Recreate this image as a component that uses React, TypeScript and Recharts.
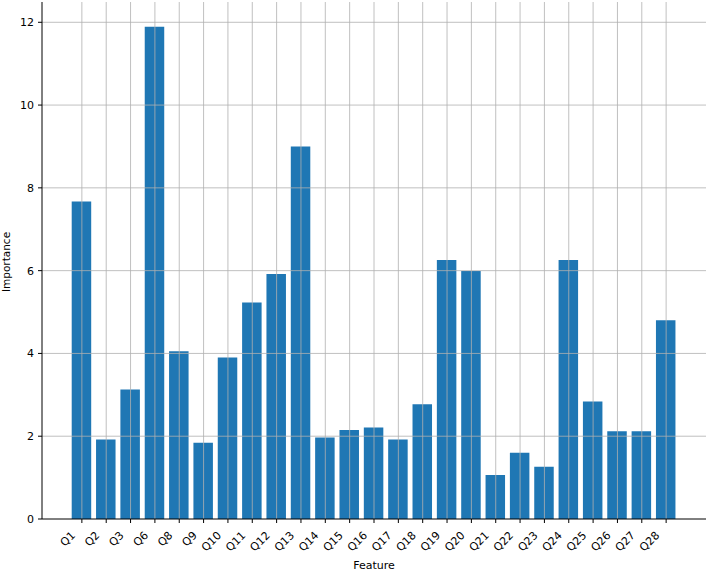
import { BarChart, Bar, XAxis, YAxis, ReferenceLine } from 'recharts';

const features = [
  'Q1', 'Q2', 'Q3', 'Q6', 'Q8', 'Q9', 'Q10', 'Q11', 'Q12', 'Q13', 'Q14', 'Q15', 'Q16',
  'Q17', 'Q18', 'Q19', 'Q20', 'Q21', 'Q22', 'Q23', 'Q24', 'Q25', 'Q26', 'Q27', 'Q28',
];
const importance = [
  7.67, 1.92, 3.13, 11.89, 4.05, 1.84, 3.9, 5.23, 5.92, 9.0, 1.97, 2.15, 2.21,
  1.92, 2.77, 6.26, 5.99, 1.06, 1.6, 1.26, 6.26, 2.84, 2.12, 2.12, 4.8,
];
const yTicks = [0, 2, 4, 6, 8, 10, 12];

const data = features.map((f, i) => ({ feature: f, value: importance[i] }));

const FONT = '"DejaVu Sans", sans-serif';
const GRID = '#b0b0b0';

function RotatedTick({ x, y, payload }: any) {
  return (
    <g transform={`translate(${x - 6},${y + 13}) rotate(-45)`}>
      <text textAnchor="end" fontSize={11} fontFamily={FONT} fill="#000">
        {payload.value}
      </text>
    </g>
  );
}

export default function App() {
  return (
    <div style={{ position: 'absolute', left: 0, top: 0 }}>
      <BarChart width={708} height={571} data={data} margin={{ top: 2, right: 2, bottom: 0, left: 0 }}>
        <Bar dataKey="value" fill="#1f77b4" barSize={19.5} isAnimationActive={false} />
        {/* matplotlib draws the grid over the bars */}
        {features.map(f => (
          <ReferenceLine key={f} x={f} stroke={GRID} strokeWidth={0.8} />
        ))}
        {yTicks.filter(t => t > 0).map(t => (
          <ReferenceLine key={t} y={t} stroke={GRID} strokeWidth={0.8} />
        ))}
        <XAxis
          dataKey="feature"
          height={52}
          padding={{ left: 27.7, right: 27.7 }}
          tick={<RotatedTick />}
          tickSize={4}
          tickMargin={0}
          tickLine={{ stroke: '#000' }}
          axisLine={{ stroke: '#000' }}
          interval={0}
          label={{ value: 'Feature', position: 'insideBottom', offset: 2, fontSize: 11, fontFamily: FONT, fill: '#000' }}
        />
        <XAxis xAxisId="top" dataKey="feature" orientation="top" height={0} tick={false} tickLine={false} axisLine={{ stroke: '#000' }} />
        <YAxis
          width={42}
          domain={[0, 12.49]}
          ticks={yTicks}
          tickSize={4}
          tickMargin={4}
          tickLine={{ stroke: '#000' }}
          axisLine={{ stroke: '#000' }}
          tick={{ fontSize: 11, fontFamily: FONT, fill: '#000' }}
          label={{
            content: () => (
              <text
                x={10}
                y={262}
                transform="rotate(-90, 10, 262)"
                textAnchor="middle"
                fontSize={10.5}
                fontFamily={FONT}
                fill="#000"
              >
                Importance
              </text>
            ),
          }}
        />
        <YAxis yAxisId="right" orientation="right" width={0} domain={[0, 12.49]} tick={false} tickLine={false} axisLine={{ stroke: '#000' }} />
      </BarChart>
    </div>
  );
}
